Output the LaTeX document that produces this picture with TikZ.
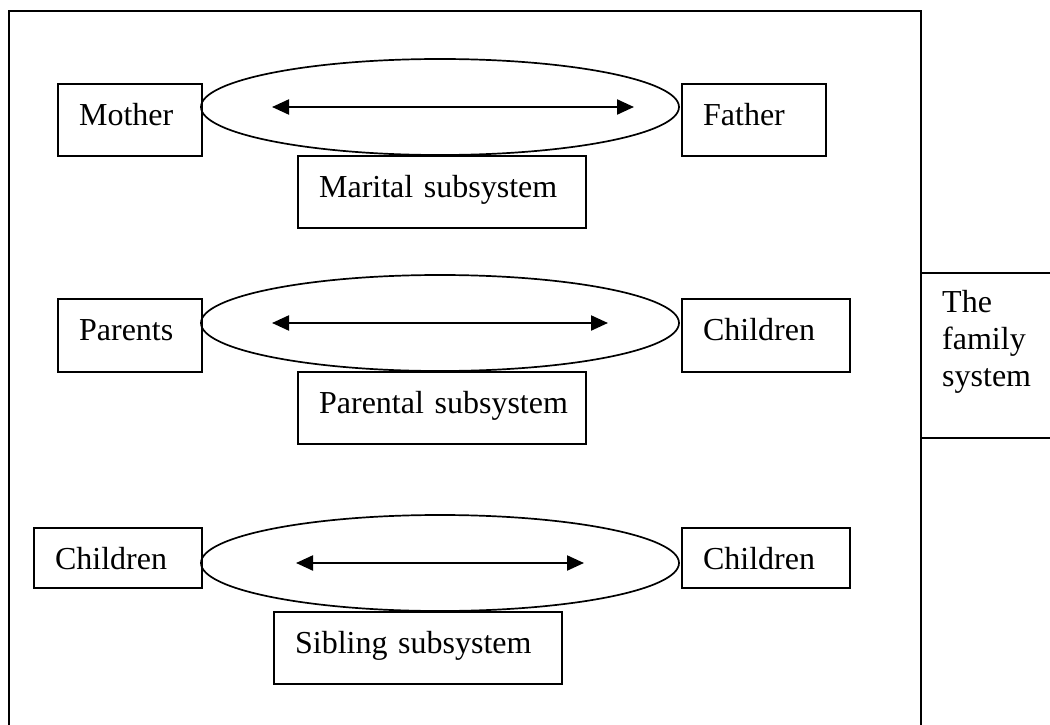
\documentclass[tikz,border=0pt]{standalone}
\usepackage{fontspec}
\setmainfont{Liberation Serif}
\usetikzlibrary{shapes.geometric,arrows.meta}
\begin{document}
\begin{tikzpicture}[x=1pt,y=-1pt,
  lbl/.style={draw, line width=2.2pt, anchor=north west, inner xsep=21pt, inner ysep=0pt,
    align=left, text height=41pt, font=\fontsize{32}{37}\selectfont},
  oval/.style={draw, ellipse, line width=1.7pt, minimum width=478pt, minimum height=96pt, inner sep=0pt},
  dbl/.style={{Triangle[length=17pt,width=15pt]}-{Triangle[length=17pt,width=15pt]}, line width=2.2pt},
  frame/.style={line width=2.2pt}]
\useasboundingbox (0,0) rectangle (1050,725);

% outer family frame
\coordinate (fbl) at (9,725);
\coordinate (ftl) at (9,11);
\coordinate (ftr) at (921,11);
\coordinate (fbr) at (921,725);
\draw[frame] (fbl) -- (ftl) -- (ftr) -- (fbr);

% family system label
\coordinate (st) at (921,273);
\coordinate (se) at (1050,273);
\coordinate (sb) at (921,438);
\coordinate (sbe) at (1050,438);
\draw[frame] (st) -- (se);
\draw[frame] (sb) -- (sbe);
\node[anchor=north west, inner sep=0pt, text width=100pt, align=left, text height=39pt,
  font=\fontsize{32}{37}\selectfont] (fam) at (942,273) {The\\family\\system};

% row 1
\node[oval] (e1) at (440,107) {};
\node[lbl, text width=102pt, text depth=31pt] (mother) at (57,83) {\mbox{Mother}};
\node[lbl, text width=102pt, text depth=31pt] (father) at (681,83) {\mbox{Father}};
\node[lbl, text width=246pt, text depth=31pt] (marital) at (297,155) {\mbox{Marital subsystem}};
\coordinate (a1l) at (272,107);
\coordinate (a1r) at (634,107);
\draw[dbl] (a1l) -- (a1r);

% row 2
\node[oval] (e2) at (440,323) {};
\node[lbl, text width=102pt, text depth=32pt] (parents) at (57,298) {\mbox{Parents}};
\node[lbl, text width=126pt, text depth=32pt] (childA) at (681,298) {\mbox{Children}};
\node[lbl, text width=246pt, text depth=31pt] (parental) at (297,371) {\mbox{Parental subsystem}};
\coordinate (a2l) at (272,323);
\coordinate (a2r) at (608,323);
\draw[dbl] (a2l) -- (a2r);

% row 3
\node[oval] (e3) at (440,563) {};
\node[lbl, text width=126pt, text depth=19pt] (childB) at (33,527) {\mbox{Children}};
\node[lbl, text width=126pt, text depth=19pt] (childC) at (681,527) {\mbox{Children}};
\node[lbl, text width=246pt, text depth=31pt] (sibling) at (273,611) {\mbox{Sibling subsystem}};
\coordinate (a3l) at (296,563);
\coordinate (a3r) at (584,563);
\draw[dbl] (a3l) -- (a3r);
\end{tikzpicture}
\end{document}
